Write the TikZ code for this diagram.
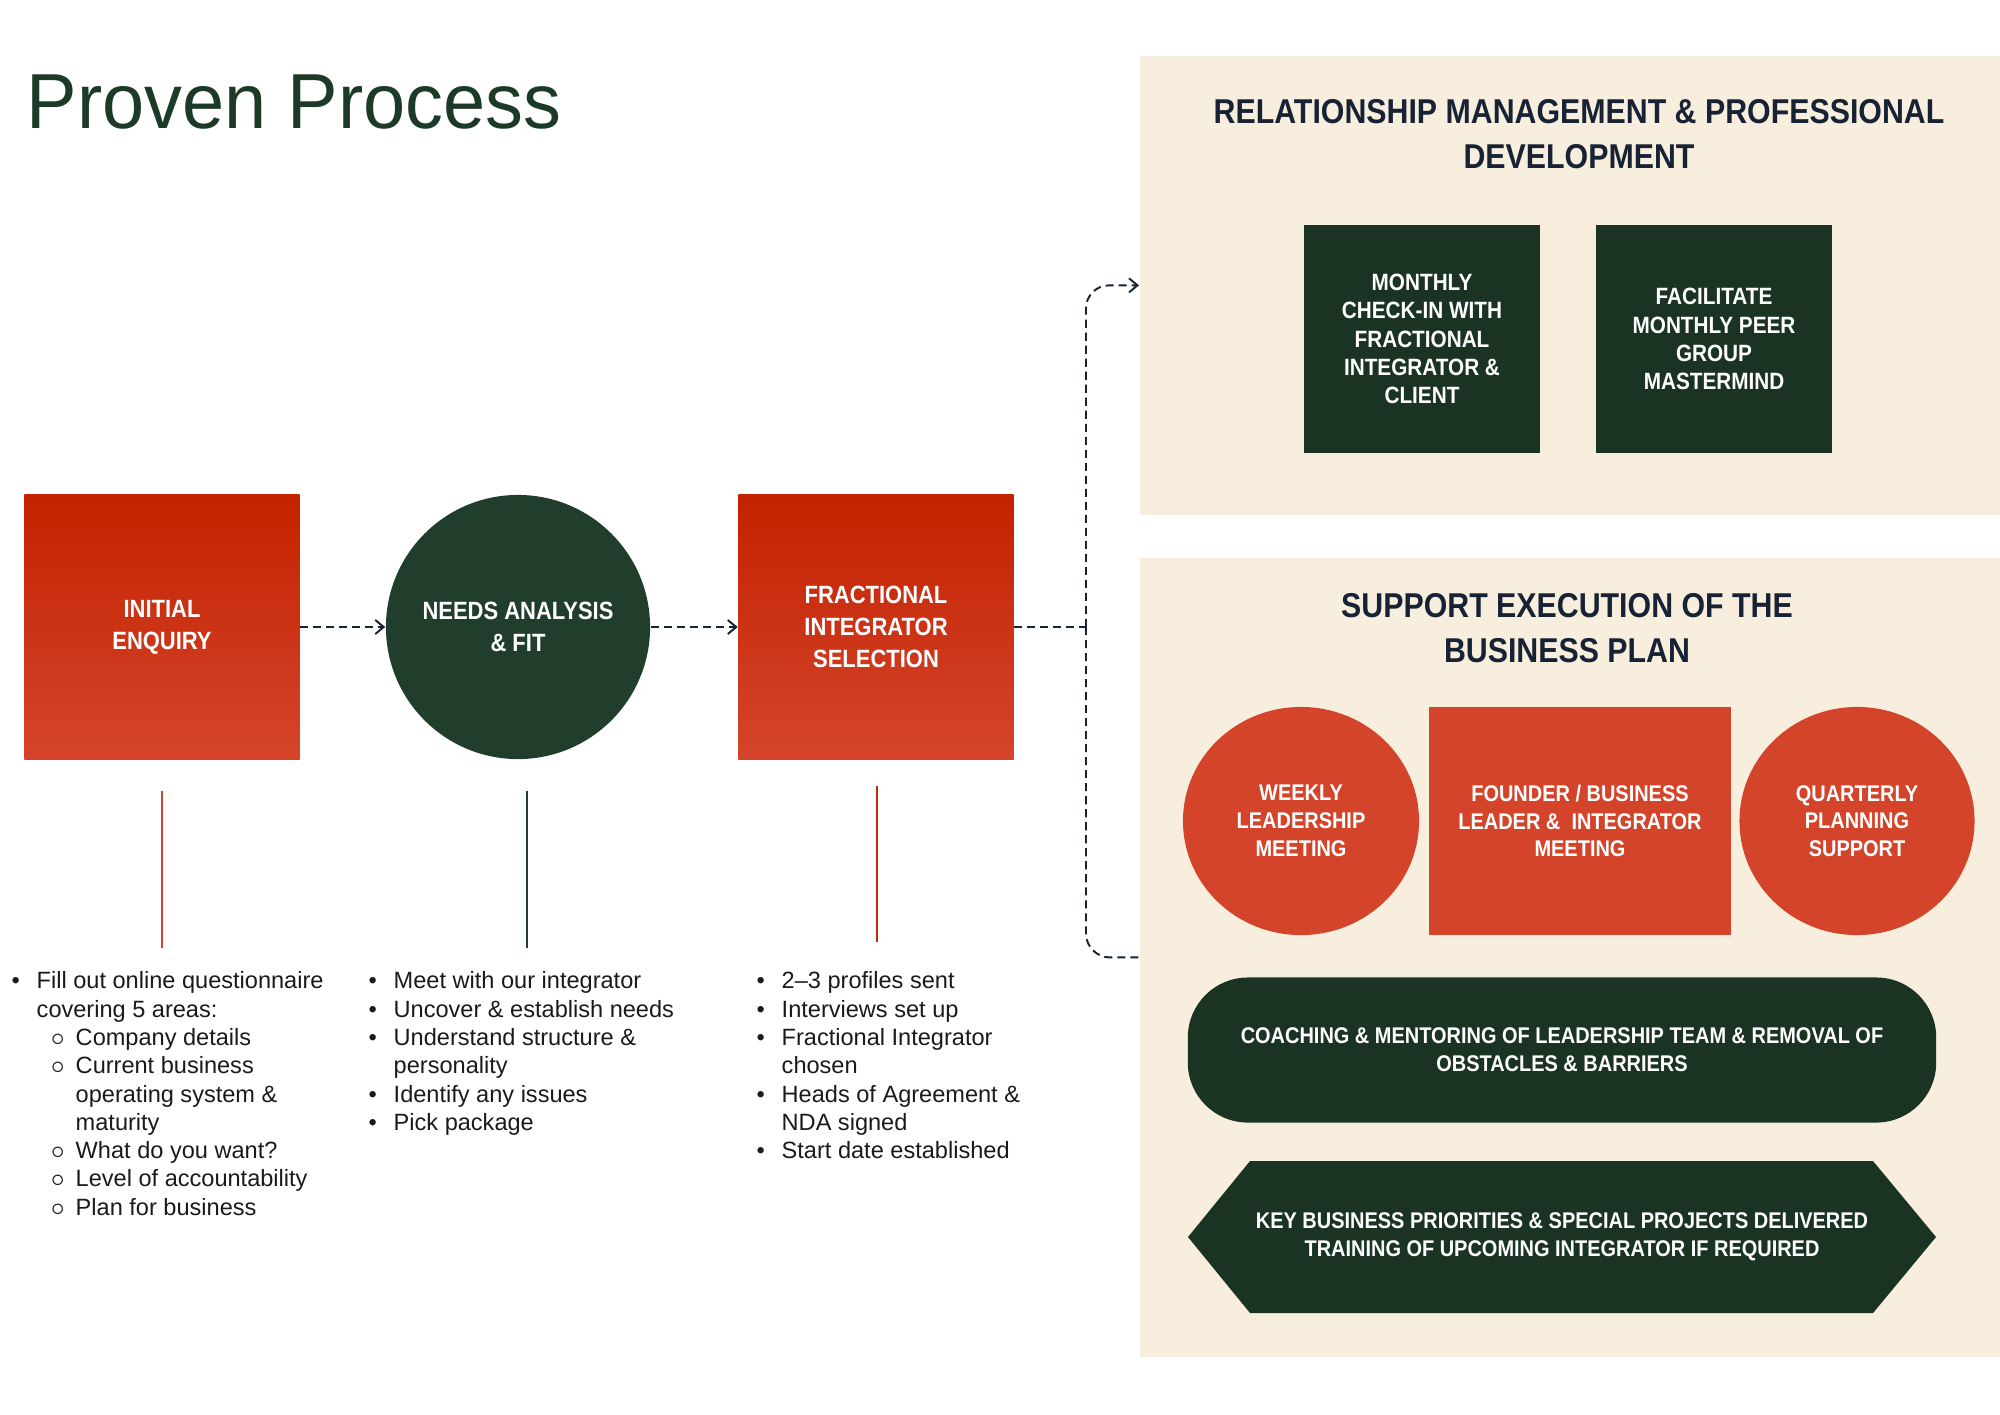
\documentclass[tikz,border=0pt]{standalone}
\usepackage{fontspec}
\setmainfont{Liberation Sans}
\newfontfamily\capsfont[FakeStretch=0.88]{Liberation Sans}
\newfontfamily\headfont[FakeStretch=0.97]{Liberation Sans}
\usepackage{tikz}
\usetikzlibrary{positioning, arrows.meta, shapes.geometric}

\definecolor{forest}{HTML}{1A3322}
\definecolor{forestlight}{HTML}{213E2D}
\definecolor{brick}{HTML}{D4442B}
\definecolor{brickdark}{HTML}{C42200}
\definecolor{cream}{HTML}{F8EEDD}
\definecolor{ink}{HTML}{172234}
\definecolor{titlegreen}{HTML}{1B3A27}
\definecolor{bodytext}{HTML}{1A1A1A}

% list helpers
\newcommand{\bul}{\makebox[0.25cm][l]{\textbullet}}
\newcommand{\cont}{\hspace*{0.25cm}}
\newcommand{\subbul}{\hspace*{0.39cm}\makebox[0.25cm][l]{$\circ$}}
\newcommand{\subcont}{\hspace*{0.64cm}}

\begin{document}
\begin{tikzpicture}[
        x=0.01cm, y=-0.01cm,
        panel/.style = {fill=cream, inner sep=0, anchor=north west},
        paneltitle/.style = {text=ink, align=center, inner sep=0, font=\capsfont\bfseries\fontsize{9.8}{12.8}\selectfont},
        boxlabel/.style = {text=white, align=center, inner sep=0, font=\capsfont\bfseries\fontsize{6.7}{8}\selectfont},
        smalllabel/.style = {boxlabel, font=\capsfont\bfseries\fontsize{6.45}{7.9}\selectfont},
        flowbox/.style = {rectangle, top color=brickdark, bottom color=brick, minimum width=2.75cm, minimum height=2.64cm, text=white, align=center, font=\capsfont\bfseries\fontsize{7.1}{9.1}\selectfont},
        flowcircle/.style = {circle, fill=forestlight, minimum size=2.64cm, inner sep=0, text=white, align=center, font=\capsfont\bfseries\fontsize{7.1}{9.1}\selectfont},
        greenbox/.style = {rectangle, fill=forest, minimum width=2.36cm, minimum height=2.27cm, boxlabel},
        redbox/.style = {rectangle, fill=brick, minimum width=3.01cm, minimum height=2.28cm, smalllabel},
        redoval/.style = {ellipse, fill=brick, minimum width=2.36cm, minimum height=2.28cm, smalllabel},
        link/.style = {draw=ink, line width=0.55pt, dash pattern=on 2.3pt off 1.4pt},
        tip/.style = {-{Straight Barb[length=2.4pt,width=4pt]}},
        stem/.style = {line width=0.7pt},
        list/.style = {anchor=north west, inner sep=0, align=left, text=bodytext, font=\fontsize{6.7}{8.05}\selectfont},
        ]
        \useasboundingbox (0,0) rectangle (2000,1414);

        % title
        \node[anchor=base west, inner sep=0, text=titlegreen, font=\headfont\fontsize{22.2}{26}\selectfont] (title) at (26,128) {Proven Process};

        % panels on the right
        \node[panel, minimum width=8.61cm, minimum height=4.59cm] (relpanel) at (1139,55) {};
        \node[panel, minimum width=8.61cm, minimum height=7.99cm] (exepanel) at (1139,557) {};

        \node[paneltitle] (reltitle) at (1579,134.5) {RELATIONSHIP MANAGEMENT \& PROFESSIONAL\\DEVELOPMENT};
        \node[greenbox] (checkin) at (1422,339) {MONTHLY\\CHECK-IN WITH\\FRACTIONAL\\INTEGRATOR \&\\CLIENT};
        \node[greenbox] (peer) at (1714,339) {FACILITATE\\MONTHLY PEER\\GROUP\\MASTERMIND};

        \node[paneltitle] (exetitle) at (1567,628.5) {SUPPORT EXECUTION OF THE\\BUSINESS PLAN};
        \node[redoval] (weekly) at (1301,821) {WEEKLY\\LEADERSHIP\\MEETING};
        \node[redbox] (founder) at (1580,821) {FOUNDER / BUSINESS\\LEADER \&\ \ INTEGRATOR\\MEETING};
        \node[redoval, minimum width=2.35cm] (quarterly) at (1857,821) {QUARTERLY\\PLANNING\\SUPPORT};
        \node[rectangle, rounded corners=0.6cm, fill=forest, minimum width=7.48cm, minimum height=1.45cm, smalllabel] (coaching) at (1562,1050) {COACHING \& MENTORING OF LEADERSHIP TEAM \& REMOVAL OF\\OBSTACLES \& BARRIERS};
        \fill[forest] (1188,1237) -- (1250,1161) -- (1873,1161) -- (1936,1237) -- (1873,1313) -- (1250,1313) -- cycle;
        \node[smalllabel] (priorities) at (1562,1237) {KEY BUSINESS PRIORITIES \& SPECIAL PROJECTS DELIVERED\\TRAINING OF UPCOMING INTEGRATOR IF REQUIRED};

        % main flow
        \node[flowbox] (enquiry) at (162,627) {INITIAL\\ENQUIRY};
        \node[flowcircle] (needs) at (518,627) {NEEDS ANALYSIS\\\& FIT};
        \node[flowbox] (selection) at (876,627) {FRACTIONAL\\INTEGRATOR\\SELECTION};
        \coordinate (bus) at (1086,627);

        \draw[link, tip] (enquiry) -- (needs);
        \draw[link, tip] (needs) -- (selection);
        \draw[link] (selection) -- (bus);
        \draw[link, tip, rounded corners=0.23cm] (bus) |- (relpanel.west);
        \draw[link, rounded corners=0.24cm] (bus) |- (exepanel.west);

        % stems down to the lists
        \draw[stem, draw=brick] ([yshift=-0.31cm]enquiry.south) -- ++(0,157);
        \draw[stem, draw=forestlight] ([xshift=0.09cm, yshift=-0.31cm]needs.south) -- ++(0,157);
        \draw[stem, draw=brickdark!80!brick] ([xshift=0.01cm, yshift=-0.26cm]selection.south) -- ++(0,156);

        % lists
        \node[list] (enqlist) at (11,971) {\bul Fill out online questionnaire\\
            \cont covering 5 areas:\\
            \subbul Company details\\
            \subbul Current business\\
            \subcont operating system \&\\
            \subcont maturity\\
            \subbul What do you want?\\
            \subbul Level of accountability\\
            \subbul Plan for business};
        \node[list] (needslist) at (368,971) {\bul Meet with our integrator\\
            \bul Uncover \& establish needs\\
            \bul Understand structure \&\\
            \cont personality\\
            \bul Identify any issues\\
            \bul Pick package};
        \node[list] (sellist) at (756,971) {\bul 2--3 profiles sent\\
            \bul Interviews set up\\
            \bul Fractional Integrator\\
            \cont chosen\\
            \bul Heads of Agreement \&\\
            \cont NDA signed\\
            \bul Start date established};
    \end{tikzpicture}
\end{document}
